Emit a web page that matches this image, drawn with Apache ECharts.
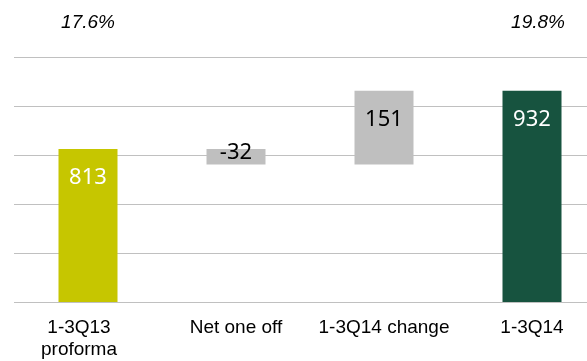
<!DOCTYPE html>
<html>
<head>
<meta charset="utf-8">
<script src="https://cdn.jsdelivr.net/npm/echarts@6/dist/echarts.min.js"></script>
<style>
  html, body { margin: 0; padding: 0; background: #ffffff; overflow: hidden; }
  /* the plot area runs a little past the right edge of the window */
  #chart { width: 606px; height: 361px; }
</style>
</head>
<body>
<div id="chart"></div>
<script>
// Waterfall: 1-3Q13 proforma -> 1-3Q14
const categories = ['1-3Q13\nproforma', 'Net one off', '1-3Q14 change', '1-3Q14'];
const steps = [813, -32, 151, 932];          // signed value of each step
const isTotal = [true, false, false, true];  // totals stand on the axis
const ratioLabels = ['17.6%', '', '', '19.8%'];
const barColors = ['#C6C600', '#BFBFBF', '#BFBFBF', '#17533F'];
const labelColors = ['#ffffff', '#000000', '#000000', '#ffffff'];

// build invisible base + visible segment for each step
const baseData = [];
const segData = [];
let running = 0;
steps.forEach((v, i) => {
  if (isTotal[i]) {
    baseData.push(0);
    segData.push(Math.abs(v));
    running = v;
  } else {
    const next = running + v;
    baseData.push(Math.min(running, next));
    segData.push(Math.abs(v));
    running = next;
  }
});

const valueFont = 'Noto Sans, Open Sans, sans-serif';
const axisFont = 'Liberation Sans, Arial, sans-serif';

const chart = echarts.init(document.getElementById('chart'), null, { renderer: 'canvas' });
chart.setOption({
  animation: false,
  backgroundColor: '#ffffff',
  grid: { left: 14, top: 57.5, right: 0, bottom: 59, containLabel: false },
  xAxis: [
    {
      type: 'category',
      position: 'bottom',
      data: categories.map((c, i) => i === 0
        ? { value: c, textStyle: { padding: [0, 18, 0, 0] } }
        : c),
      axisLine: { show: false },
      axisTick: { show: false },
      axisLabel: {
        interval: 0,
        margin: 15,
        color: '#000000',
        fontFamily: axisFont,
        fontSize: 19,
        lineHeight: 22
      }
    },
    {
      type: 'category',
      position: 'top',
      data: ratioLabels.map((t, i) => i === 3
        ? { value: t, textStyle: { padding: [0, 0, 0, 12] } }
        : t),
      axisLine: { show: false },
      axisTick: { show: false },
      axisLabel: {
        interval: 0,
        margin: 24,
        color: '#000000',
        fontFamily: axisFont,
        fontStyle: 'italic',
        fontSize: 19,
        lineHeight: 22
      }
    }
  ],
  yAxis: {
    type: 'value',
    min: 500,
    max: 1000,
    interval: 100,
    axisLine: { show: false },
    axisTick: { show: false },
    axisLabel: { show: false },
    splitLine: { show: true, lineStyle: { color: '#C0C0C0', width: 1 } }
  },
  series: [
    {
      type: 'bar',
      stack: 'wf',
      barWidth: 59,
      silent: true,
      itemStyle: { color: 'transparent' },
      data: baseData
    },
    {
      type: 'bar',
      stack: 'wf',
      barWidth: 59,
      data: segData.map((v, i) => ({
        value: v,
        itemStyle: { color: barColors[i] },
        label: {
          show: true,
          position: ['50%', isTotal[i] || steps[i] > 100 ? 29 : 4],
          align: 'center',
          verticalAlign: 'middle',
          formatter: String(steps[i]),
          color: labelColors[i],
          fontFamily: valueFont,
          fontSize: 22
        }
      }))
    }
  ]
});
</script>
</body>
</html>
